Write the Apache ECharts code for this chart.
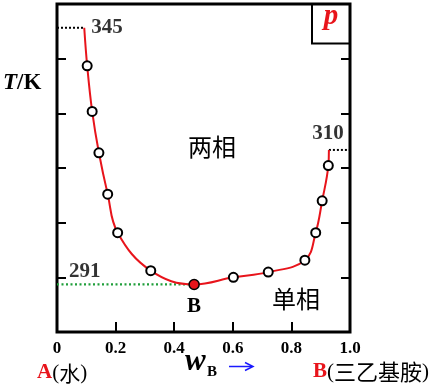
<!DOCTYPE html>
<html><head><meta charset="utf-8">
<script src="https://cdn.jsdelivr.net/npm/echarts@6/dist/echarts.min.js"></script>
<style>html,body{margin:0;padding:0;background:#fff}#c{width:434px;height:388px}</style>
</head><body><div id="c"></div>
<script>
// ---- data ----
const xTickLabels = ['0', '0.2', '0.4', '0.6', '0.8', '1.0'];
// measured (open-circle) points: w_B and T/K
const pointW = [0.103, 0.120, 0.143, 0.173, 0.207, 0.320, 0.602, 0.721, 0.846, 0.883, 0.905, 0.926];
const pointT = [337.0, 327.4, 318.7, 310.0, 301.9, 293.9, 292.5, 293.6, 296.1, 301.9, 308.6, 316.0];
// critical point B
const critW = 0.468;
const critT = 291;
// curve end points (left and right)
const endW = [0.093, 0.928];
const endT = [345, 319.3];
// annotation texts
const endLabels = ['345', '310'];
const critLabel = '291';
const critName = 'B';
const regionNames = ['两相', '单相'];

const SERIF = "'Times New Roman','Liberation Serif',serif";
const CJK = "'Noto Sans CJK SC','Noto Sans CJK JP',sans-serif";

// build the smooth curve from the read points
const curve = [[endW[0], endT[0]]];
pointW.forEach((w, i) => { if (w < critW) curve.push([w, pointT[i]]); });
curve.push([critW, critT]);
pointW.forEach((w, i) => { if (w > critW) curve.push([w, pointT[i]]); });
curve.push([endW[1], endT[1]]);

const chart = echarts.init(document.getElementById('c'), null, {renderer: 'canvas'});
const tickStyle = {show: true, inside: true, length: 9, lineStyle: {color: '#000', width: 2}};
const yBase = {
  type: 'value', min: 281, max: 350, interval: 11.5,
  axisLine: {show: false}, axisLabel: {show: false}, splitLine: {show: false},
  axisTick: tickStyle
};
const option = {
  animation: false,
  backgroundColor: '#fff',
  grid: {left: 57, right: 84, top: 4, bottom: 56, show: true, borderColor: '#000', borderWidth: 3},
  xAxis: {
    type: 'value', min: 0, max: 1, interval: 0.2,
    axisLine: {show: false}, splitLine: {show: false},
    axisTick: {show: true, inside: true, length: 10, lineStyle: {color: '#000', width: 2}},
    axisLabel: {
      margin: 8, color: '#000', fontSize: 17, fontWeight: 'bold', fontFamily: SERIF,
      formatter: (v) => xTickLabels[Math.round(v / 0.2)]
    }
  },
  yAxis: [Object.assign({position: 'left'}, yBase), Object.assign({position: 'right'}, yBase)],
  series: [
    { // left dotted line
      type: 'line', data: [[0, endT[0]], [endW[0], endT[0]]], symbol: 'none', silent: true,
      lineStyle: {color: '#000', width: 2, type: [2, 2]}
    },
    { // right dotted line
      type: 'line', data: [[endW[1], endT[1]], [1, endT[1]]], symbol: 'none', silent: true,
      lineStyle: {color: '#000', width: 2, type: [2, 2]}
    },
    { // green dotted line to critical point
      type: 'line', data: [[0, critT], [critW, critT]], symbol: 'none', silent: true,
      lineStyle: {color: '#1f9e3a', width: 2.2, type: [2, 2.5]}
    },
    { // coexistence curve
      type: 'line', data: curve, symbol: 'none', smooth: 0.4, silent: true,
      lineStyle: {color: '#e8141b', width: 2}, z: 3
    },
    { // measured points
      type: 'scatter', data: pointW.map((w, i) => [w, pointT[i]]), symbol: 'circle', symbolSize: 9,
      itemStyle: {color: '#fff', borderColor: '#000', borderWidth: 2, opacity: 1}, z: 4
    },
    { // critical point
      type: 'scatter', data: [[critW, critT]], symbol: 'circle', symbolSize: 10,
      itemStyle: {color: '#e8141b', borderColor: '#000', borderWidth: 1.5, opacity: 1}, z: 5,
      label: {show: true, position: 'bottom', distance: 6, formatter: critName,
        color: '#000', fontSize: 21, fontWeight: 'bold', fontFamily: SERIF}
    },
    { // text annotations
      type: 'scatter', symbolSize: 0, z: 6, silent: true,
      label: {show: true, color: '#000', fontSize: 21, fontWeight: 'bold', fontFamily: SERIF},
      data: [
        {value: [endW[0], endT[0]], label: {formatter: endLabels[0], position: 'right', distance: 7}},
        {value: [endW[1], endT[1]], label: {formatter: endLabels[1], position: 'top', distance: 6, offset: [-1, 0]}},
        {value: [0, critT], label: {formatter: critLabel, position: 'right', distance: 12, offset: [0, -13]}}
      ]
    }
  ],
  graphic: [
    {type: 'rect', shape: {x: 312, y: 4, width: 38, height: 39.5}, style: {fill: 'none', stroke: '#000', lineWidth: 2}, z: 10},
    {type: 'text', x: 331, y: 17, style: {text: 'p', fill: '#e8141b', font: 'italic bold 29px ' + SERIF, textAlign: 'center', textVerticalAlign: 'middle'}, z: 10},
    {type: 'text', x: 212, y: 147, style: {text: regionNames[0], fill: '#000', font: '24px ' + CJK, textAlign: 'center', textVerticalAlign: 'middle'}},
    {type: 'text', x: 296, y: 299, style: {text: regionNames[1], fill: '#000', font: '24px ' + CJK, textAlign: 'center', textVerticalAlign: 'middle'}},
    {type: 'text', x: 3, y: 83, style: {
      text: '{t|T}{k|/K}', textAlign: 'left', textVerticalAlign: 'middle',
      rich: {t: {fontStyle: 'italic', fontWeight: 'bold', fontSize: 23, fontFamily: SERIF, fill: '#000'},
             k: {fontWeight: 'bold', fontSize: 23, fontFamily: SERIF, fill: '#000'}}
    }},
    {type: 'text', x: 185, y: 362, style: {text: 'w', fill: '#000', font: 'italic bold 31px ' + SERIF, textAlign: 'left', textVerticalAlign: 'middle'}},
    {type: 'text', x: 207, y: 372.5, style: {text: 'B', fill: '#000', font: 'bold 15px ' + SERIF, textAlign: 'left', textVerticalAlign: 'middle'}},
    {type: 'line', shape: {x1: 229, y1: 366.5, x2: 252, y2: 366.5}, style: {stroke: '#1a1aff', lineWidth: 1.5}},
    {type: 'polyline', shape: {points: [[245, 362.5], [253, 366.5], [245, 370.5]]}, style: {stroke: '#1a1aff', lineWidth: 1.5, fill: 'none'}},
    {type: 'text', x: 37, y: 373, style: {
      text: '{a|A}{p|(}{c|水}{p|)}', textAlign: 'left', textVerticalAlign: 'middle',
      rich: {a: {fontWeight: 'bold', fontSize: 21, fontFamily: SERIF, fill: '#e8141b'},
             p: {fontSize: 21, fontFamily: SERIF, fill: '#000'},
             c: {fontSize: 21, fontFamily: CJK, fill: '#000'}}
    }},
    {type: 'text', x: 313, y: 372, style: {
      text: '{a|B}{p|(}{c|三乙基胺}{p|)}', textAlign: 'left', textVerticalAlign: 'middle',
      rich: {a: {fontWeight: 'bold', fontSize: 21, fontFamily: SERIF, fill: '#e8141b'},
             p: {fontSize: 21, fontFamily: SERIF, fill: '#000'},
             c: {fontSize: 22, fontFamily: CJK, fill: '#000'}}
    }}
  ]
};
chart.setOption(option);
</script>
</body></html>
